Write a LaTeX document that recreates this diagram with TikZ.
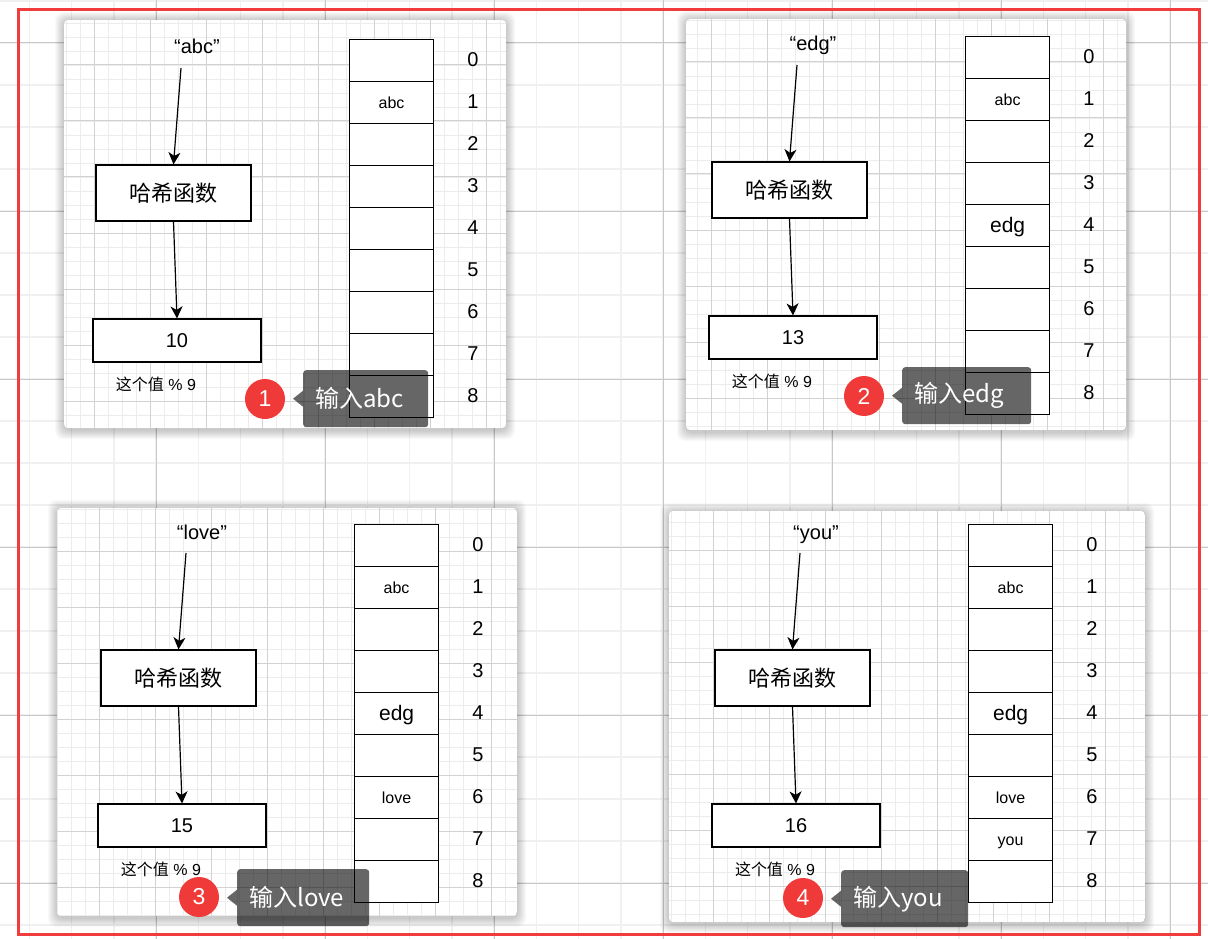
\documentclass[tikz,border=0pt]{standalone}
\usepackage{fontspec}
\setmainfont{Liberation Sans}
\newfontfamily\cjk{Noto Sans CJK SC}
\usetikzlibrary{arrows.meta}
\definecolor{redline}{RGB}{240,60,60}
\definecolor{badgered}{RGB}{240,58,58}
\definecolor{gminor}{RGB}{240,240,240}
\definecolor{gmajor}{RGB}{200,200,200}
\definecolor{pminor}{RGB}{236,236,236}
\definecolor{pmajor}{RGB}{210,210,210}
\newcommand\fs[1]{\fontsize{#1}{#1}\selectfont}
\tikzset{
  cell/.style={draw=black, line width=1.2pt, fill=white, minimum width=84pt, minimum height=42pt, inner sep=0pt, anchor=north west},
  hbox/.style={draw=black, line width=1.2pt, fill=white, inner sep=0pt},
  arr/.style={line width=1.2pt, -{Stealth[length=12pt,width=12pt,inset=3.5pt]}},
  keylab/.style={font=\fs{20}},
  idx/.style={font=\fs{20}},
  celltxt/.style={anchor=base, font=\fs{16}},
  celltxtbig/.style={anchor=base, font=\fs{21}},
  badge/.style={circle, fill=badgered, minimum size=40pt, inner sep=0pt, text=white, font=\fs{23}},
  callout/.style={fill=black, fill opacity=0.6, text opacity=1, text=white, rounded corners=3pt, inner xsep=12pt, inner ysep=0pt, minimum height=57pt, anchor=north west, font=\cjk\fs{24}, align=left},
  callfill/.style={fill=black, fill opacity=0.6},
  gminorline/.style={draw=gminor, line width=1.5pt},
  gmajorline/.style={draw=gmajor, line width=1pt},
  pminorline/.style={draw=pminor, line width=0.9pt},
  pmajorline/.style={draw=pmajor, line width=1pt},
}
% panel card: x0 y0 x1 y1 gx gy
\newcommand\panelbg[6]{%
  \foreach \s in {1,...,9}{\fill[black, opacity=0.022, rounded corners=8pt] ({#1-\s},{#2-\s+1}) rectangle ({#3+\s},{#4+\s+2});}
  \begin{scope}
    \clip[rounded corners=4pt] (#1,#2) rectangle (#3,#4);
    \fill[white] (#1,#2) rectangle (#3,#4);
    \foreach \i in {-4,...,36}{\draw[pminorline] ({#5+14*\i},#2) -- ({#5+14*\i},#4);}
    \foreach \i in {-4,...,32}{\draw[pminorline] (#1,{#6+14*\i}) -- (#3,{#6+14*\i});}
    \foreach \i in {-1,...,8}{\draw[pmajorline] ({#5+56*\i},#2) -- ({#5+56*\i},#4);}
    \foreach \i in {-1,...,7}{\draw[pmajorline] (#1,{#6+56*\i}) -- (#3,{#6+56*\i});}
  \end{scope}}
% panel content: prefix, table x, table y, key, value
\newcommand\hashpanel[5]{%
  \begin{scope}[shift={(#2,#3)}]
    \foreach \r in {0,...,8}{%
      \node[cell] (#1c\r) at (0,{42*\r}) {};
      \node[idx] (#1i\r) at (124,{21+42*\r}) {\r};}
    \node[keylab, anchor=base] (#1key) at (-152,15) {“#4”};
    \coordinate (#1ks) at (-168,29);
    \node[hbox, minimum width=155pt, minimum height=56pt, font=\cjk\fs{22}] (#1hash) at (-175.5,154) {哈希函数};
    \node[hbox, minimum width=168pt, minimum height=43pt, font=\fs{20}] (#1val) at (-172,301.5) {#5};
    \node[font=\fs{16}] (#1mod) at (-193,345) {{\cjk 这个值} \% 9};
    \draw[arr] (#1ks) -- (#1hash.north);
    \draw[arr] (#1hash.south) -- (#1val.north);
  \end{scope}}
\begin{document}
\begin{tikzpicture}[x=1pt,y=-1pt]
\useasboundingbox (0,0) rectangle (1208,939);
\fill[white] (0,0) rectangle (1208,939);
% background grid
\foreach \i in {0,...,28}{\draw[gminorline] ({29.25+42.25*\i},0) -- ({29.25+42.25*\i},939);}
\foreach \i in {0,...,22}{\draw[gminorline] (0,{1+42*\i}) -- (1208,{1+42*\i});}
\foreach \i in {0,...,6}{\draw[gmajorline] ({156+169*\i},0) -- ({156+169*\i},939);}
\foreach \i in {0,...,5}{\draw[gmajorline] (0,{43+168*\i}) -- (1208,{43+168*\i});}
% cards
\panelbg{64}{20}{506}{428}{94}{65}
\panelbg{686}{19}{1126}{430}{711}{62}
\panelbg{57}{508}{517}{916}{99}{551}
\panelbg{669}{511}{1145}{922}{713}{550}
% panels
\hashpanel{pa}{349}{39}{abc}{10}
\hashpanel{pb}{965}{36}{edg}{13}
\hashpanel{pc}{354}{524}{love}{15}
\hashpanel{pd}{968}{524}{you}{16}
% table contents
\node[celltxt] (pat1) at ([yshift=-6pt]pac1.center) {abc};
\node[celltxt] (pbt1) at ([yshift=-6pt]pbc1.center) {abc};
\node[celltxtbig] (pbt4) at ([yshift=-7pt]pbc4.center) {edg};
\node[celltxt] (pct1) at ([yshift=-6pt]pcc1.center) {abc};
\node[celltxtbig] (pct4) at ([yshift=-7pt]pcc4.center) {edg};
\node[celltxt] (pct6) at ([yshift=-6pt]pcc6.center) {love};
\node[celltxt] (pdt1) at ([yshift=-6pt]pdc1.center) {abc};
\node[celltxtbig] (pdt4) at ([yshift=-7pt]pdc4.center) {edg};
\node[celltxt] (pdt6) at ([yshift=-6pt]pdc6.center) {love};
\node[celltxt] (pdt7) at ([yshift=-6pt]pdc7.center) {you};
% badges and callouts
\node[badge] (pab) at (265,399) {1};
\node[callout, text width=101pt] (paco) at (303,370) {输入abc};
\fill[callfill] ([yshift=8pt]paco.west) -- ([xshift=-10pt]paco.west) -- ([yshift=-8pt]paco.west) -- cycle;
\node[badge] (pbb) at (864,396) {2};
\node[callout, text width=105pt] (pbco) at (902,367) {输入edg};
\fill[callfill] ([yshift=8pt]pbco.west) -- ([xshift=-10pt]pbco.west) -- ([yshift=-8pt]pbco.west) -- cycle;
\node[badge] (pcb) at (199,897) {3};
\node[callout, text width=108pt] (pcco) at (237,869) {输入love};
\fill[callfill] ([yshift=8pt]pcco.west) -- ([xshift=-10pt]pcco.west) -- ([yshift=-8pt]pcco.west) -- cycle;
\node[badge] (pdb) at (803,898) {4};
\node[callout, text width=103pt] (pdco) at (841,870) {输入you};
\fill[callfill] ([yshift=8pt]pdco.west) -- ([xshift=-10pt]pdco.west) -- ([yshift=-8pt]pdco.west) -- cycle;
% red frame
\draw[redline, line width=3pt] (18,9.5) rectangle (1199,934);
\end{tikzpicture}
\end{document}
